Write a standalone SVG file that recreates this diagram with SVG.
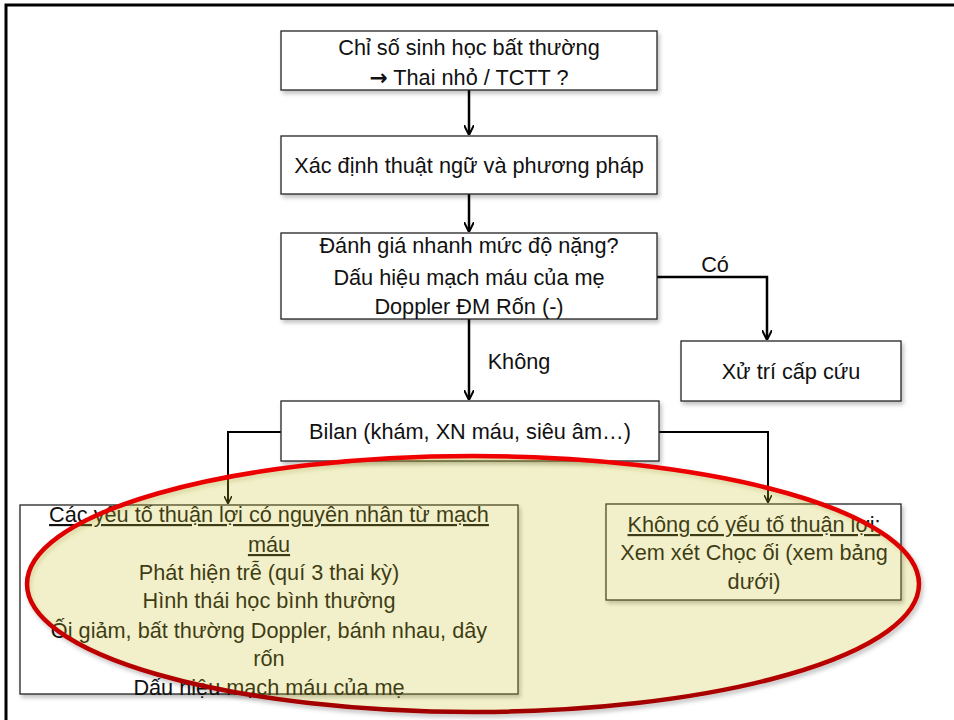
<svg xmlns="http://www.w3.org/2000/svg" width="954" height="720" viewBox="0 0 954 720">
<style>
.box{fill:#fff;stroke:#222;stroke-width:1.3}
.t{font-family:"Liberation Sans",Arial,sans-serif;font-size:21.7px;fill:#111;text-anchor:middle}
.c{fill:none;stroke:#000;stroke-width:2.5}
.c2{fill:none;stroke:#000;stroke-width:2}
.u{text-decoration:underline}
</style>
<defs>
<marker id="ah" viewBox="0 0 10 10" refX="9" refY="5" markerWidth="4" markerHeight="4" orient="auto" markerUnits="strokeWidth">
<path d="M0,0 L10,5 L0,10" fill="none" stroke="#000" stroke-width="2"/>
</marker>
<filter id="sh" x="-5%" y="-5%" width="110%" height="120%">
<feDropShadow dx="2" dy="3" stdDeviation="2" flood-color="#000" flood-opacity="0.25"/>
</filter>
<linearGradient id="rg" x1="0" y1="0" x2="0" y2="1">
<stop offset="0" stop-color="#F00000"/>
<stop offset="0.6" stop-color="#D00000"/>
<stop offset="1" stop-color="#A00000"/>
</linearGradient>
</defs>
<rect width="954" height="720" fill="#fff"/>
<path d="M6,720 V5 H954" fill="none" stroke="#000" stroke-width="3"/>

<g id="connectors">
<path class="c" d="M469,90 V134" marker-end="url(#ah)"/>
<path class="c" d="M469,194 V231" marker-end="url(#ah)"/>
<path class="c" d="M469,319 V399" marker-end="url(#ah)"/>
<path class="c" d="M657,277 H767 V339" marker-end="url(#ah)"/>
<path class="c2" d="M281,432 H228 V503" marker-end="url(#ah)"/>
<path class="c2" d="M659,432 H768 V502" marker-end="url(#ah)"/>
<text class="t" x="519" y="369">Không</text>
<text class="t" x="715" y="272">Có</text>
</g>

<g id="n1">
<rect class="box" x="281" y="31" width="376" height="59" filter="url(#sh)"/>
<text class="t" x="469" y="55">Chỉ số sinh học bất thường</text>
<text class="t" x="469" y="85"><tspan font-family="'DejaVu Sans',sans-serif" font-weight="bold">→</tspan> Thai nhỏ / TCTT ?</text>
</g>
<g id="n2">
<rect class="box" x="281" y="136" width="376" height="58" filter="url(#sh)"/>
<text class="t" x="469" y="173">Xác định thuật ngữ và phương pháp</text>
</g>
<g id="n3">
<rect class="box" x="281" y="233" width="376" height="86" filter="url(#sh)"/>
<text class="t" x="469" y="253">Đánh giá nhanh mức độ nặng?</text>
<text class="t" x="469" y="285">Dấu hiệu mạch máu của mẹ</text>
<text class="t" x="469" y="314">Doppler ĐM Rốn (-)</text>
</g>
<g id="n4">
<rect class="box" x="681" y="341" width="220" height="60" filter="url(#sh)"/>
<text class="t" x="791" y="379">Xử trí cấp cứu</text>
</g>
<g id="n5">
<rect class="box" x="281" y="401" width="378" height="60" filter="url(#sh)"/>
<text class="t" x="470" y="439">Bilan (khám, XN máu, siêu âm…)</text>
</g>
<g id="n6">
<rect class="box" x="20" y="505" width="498" height="189" filter="url(#sh)"/>
<text class="t u" x="269" y="522">Các yếu tố thuận lợi có nguyên nhân từ mạch</text>
<text class="t u" x="269" y="552">máu</text>
<text class="t" x="269" y="580">Phát hiện trễ (quí 3 thai kỳ)</text>
<text class="t" x="269" y="608">Hình thái học bình thường</text>
<text class="t" x="269" y="638">Ối giảm, bất thường Doppler, bánh nhau, dây</text>
<text class="t" x="269" y="666">rốn</text>
<text class="t" x="269" y="695">Dấu hiệu mạch máu của mẹ</text>
</g>
<g id="n7">
<rect class="box" x="606" y="504" width="295" height="96" filter="url(#sh)"/>
<text class="t u" x="754" y="532">Không có yếu tố thuận lợi:</text>
<text class="t" x="754" y="560">Xem xét Chọc ối (xem bảng</text>
<text class="t" x="754" y="589">dưới)</text>
</g>

<g id="highlight">
<ellipse cx="473" cy="584" rx="446" ry="128" fill="#DBD323" fill-opacity="0.2" stroke="url(#rg)" stroke-width="4.5" filter="url(#sh)"/>
</g>
</svg>
